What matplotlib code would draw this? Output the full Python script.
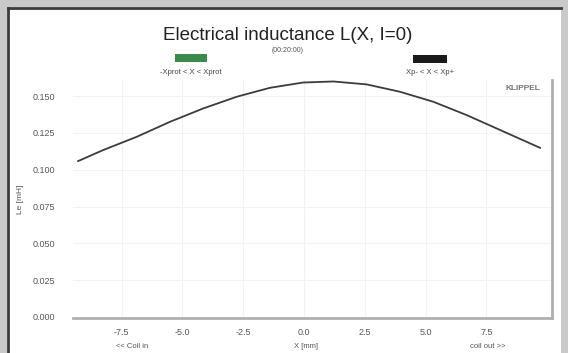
import matplotlib
matplotlib.use("Agg")
import matplotlib.pyplot as plt
from matplotlib.patches import Rectangle
import numpy as np

plt.rcParams['font.family'] = ['Liberation Sans', 'DejaVu Sans']

x_mm = [-9.29, -8.26, -6.88, -5.51, -4.14, -2.77, -1.40, -0.03, 1.21, 2.58, 3.95, 5.32, 6.70, 8.07, 9.71]
le_mH = [0.1059, 0.1134, 0.1224, 0.1326, 0.1417, 0.1496, 0.1557, 0.1593, 0.1600, 0.1580, 0.1530, 0.1462, 0.1371, 0.1270, 0.1149]
xticks = [-7.5, -5.0, -2.5, 0.0, 2.5, 5.0, 7.5]
yticks = [0.000, 0.025, 0.050, 0.075, 0.100, 0.125, 0.150]

W, H = 568, 353
fig = plt.figure(figsize=(W/100, H/100), dpi=100)
fig.patch.set_facecolor('#c9c9c9')

def fx(px): return px / W
def fy(py): return 1 - py / H

panel = Rectangle((fx(7), 0), fx(561) - fx(7), fy(7), transform=fig.transFigure,
                  facecolor='white', edgecolor='none', zorder=-2)
fig.patches.append(panel)
fig.add_artist(plt.Line2D([fx(8), fx(8)], [0, fy(8)], color='#3a3a3a', lw=2,
                          transform=fig.transFigure, zorder=-1))
fig.add_artist(plt.Line2D([fx(8), fx(561)], [fy(8), fy(8)], color='#3a3a3a', lw=2,
                          transform=fig.transFigure, zorder=-1))

ax = fig.add_axes([fx(73), fy(318), fx(552) - fx(73), fy(80) - fy(318)])
ax.set_zorder(2)
ax.set_facecolor('white')
ax.plot(x_mm, le_mH, color='#3c3c3c', lw=1.3, solid_joinstyle='round')
ax.set_xlim(-9.5, 10.2)
ax.set_ylim(-0.0007, 0.161)
ax.set_xticks(xticks)
ax.set_xticklabels([f"{v:.1f}" for v in xticks])
ax.set_yticks(yticks)
ax.set_yticklabels([f"{v:.3f}" for v in yticks])
ax.tick_params(length=0, labelsize=6.5, colors='#555555', pad=13)
ax.tick_params(axis='x', pad=7)
ax.grid(True, color='#f2f2f2', lw=0.8)
for s in ['left', 'top']:
    ax.spines[s].set_visible(False)
for s in ['bottom', 'right']:
    ax.spines[s].set_color('#b0b0b0')
    ax.spines[s].set_linewidth(2)
ax.set_ylabel('Le [mH]', fontsize=6, color='#555555', labelpad=6)

fig.text(fx(288), fy(35), 'Electrical inductance L(X, I=0)', ha='center', va='center',
         fontsize=13.5, color='#222222', zorder=3)
fig.text(fx(288), fy(50), '(00:20:00)', ha='center', va='center', fontsize=5, color='#555555', zorder=3)

fig.patches.append(Rectangle((fx(175), fy(62)), fx(207) - fx(175), fy(54) - fy(62),
                             transform=fig.transFigure, facecolor='#3a8a4a', edgecolor='none', zorder=3))
fig.patches.append(Rectangle((fx(413), fy(63)), fx(447) - fx(413), fy(55) - fy(63),
                             transform=fig.transFigure, facecolor='#1a1a1a', edgecolor='none', zorder=3))
fig.text(fx(191), fy(72), '-Xprot < X < Xprot', ha='center', va='center', fontsize=5.5, color='#444444', zorder=3)
fig.text(fx(430), fy(72), 'Xp- < X < Xp+', ha='center', va='center', fontsize=5.5, color='#444444', zorder=3)
fig.text(fx(540), fy(89), 'KLIPPEL', ha='right', va='center', fontsize=6, color='#777777',
         fontweight='bold', zorder=3)

fig.text(fx(132), fy(346), '<< Coil in', ha='center', va='center', fontsize=5.5, color='#555555', zorder=3)
fig.text(fx(306), fy(346), 'X [mm]', ha='center', va='center', fontsize=5.5, color='#555555', zorder=3)
fig.text(fx(488), fy(346), 'coil out >>', ha='center', va='center', fontsize=5.5, color='#555555', zorder=3)

fig.savefig('out.png', dpi=100, facecolor=fig.get_facecolor())
